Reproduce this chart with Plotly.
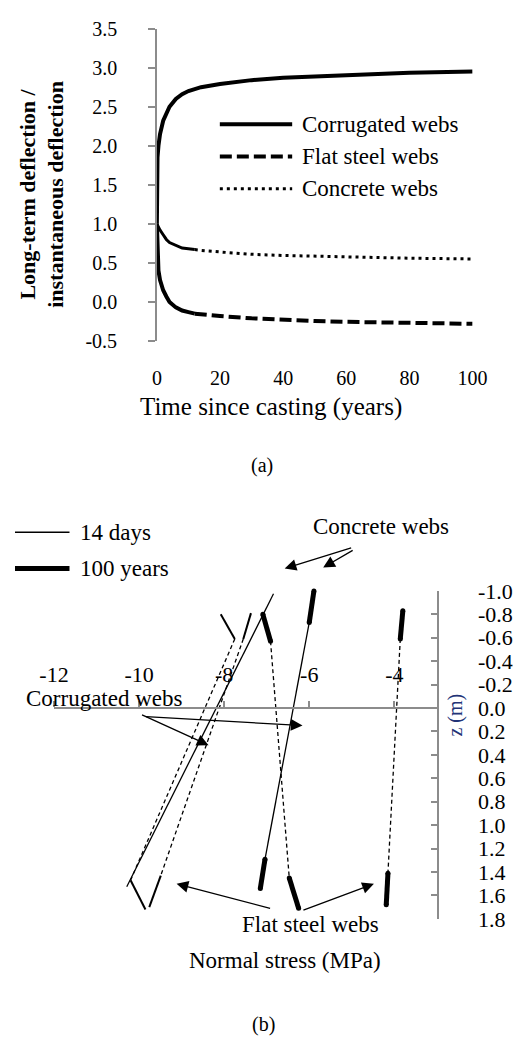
import plotly.graph_objects as go

W, H = 513, 1051
FONT = "Liberation Serif, Times New Roman, DejaVu Serif, serif"
AXC = "#8c8c8c"


def pxx(x):
    return x / W


def pxy(y):
    return 1 - y / H


# ---------------- (a) long-term deflection ratio ----------------
t_corr = [0, 0.05, 0.2, 0.5, 1, 2, 3, 4, 6, 8, 10, 14, 20, 30, 40, 50, 60, 70, 80, 90, 100]
r_corr = [1.0, 1.6, 1.85, 2.0, 2.15, 2.32, 2.42, 2.5, 2.6, 2.66, 2.7, 2.75, 2.79, 2.84, 2.87,
          2.89, 2.91, 2.92, 2.935, 2.945, 2.95]

t_flat = [0, 0.2, 0.5, 1, 2, 3, 4, 6, 8, 10, 12, 14, 20, 30, 40, 50, 60, 70, 80, 90, 100]
r_flat = [1.0, 0.6, 0.4, 0.28, 0.15, 0.07, 0.0, -0.07, -0.11, -0.13, -0.15, -0.16, -0.18, -0.21,
          -0.23, -0.245, -0.255, -0.26, -0.27, -0.275, -0.28]

t_conc = [0, 0.3, 1, 2, 3, 4, 6, 8, 10, 12, 14, 20, 30, 40, 50, 60, 70, 80, 90, 100]
r_conc = [1.0, 0.97, 0.92, 0.86, 0.8, 0.76, 0.72, 0.69, 0.68, 0.67, 0.66, 0.64, 0.61, 0.595,
          0.585, 0.575, 0.57, 0.56, 0.555, 0.55]

series_names = ["Corrugated webs", "Flat steel webs", "Concrete webs"]
x_ticks_a = [0, 20, 40, 60, 80, 100]
y_ticks_a = [-0.5, 0.0, 0.5, 1.0, 1.5, 2.0, 2.5, 3.0, 3.5]
y_ticktext_a = ["-0.5", "0.0", "0.5", "1.0", "1.5", "2.0", "2.5", "3.0", "3.5"]

# ---------------- (b) normal stress profiles ----------------
# each profile: top slab, web, bottom slab  (stress in MPa, depth z in m)
p14_x = [-6.84, -10.29]
p14_z = [-0.975, 1.525]

p100c_top_x = [-5.89, -6.00]
p100c_top_z = [-1.0, -0.73]
p100c_web_x = [-6.00, -7.04]
p100c_web_z = [-0.73, 1.29]
p100c_bot_x = [-7.04, -7.15]
p100c_bot_z = [1.29, 1.54]

pa_top_x = [-8.08, -7.75]
pa_top_z = [-0.80, -0.59]
pa_web_x = [-7.75, -10.20]
pa_web_z = [-0.59, 1.47]
pa_bot_x = [-10.20, -9.85]
pa_bot_z = [1.47, 1.72]

pb_top_x = [-7.37, -7.55]
pb_top_z = [-0.81, -0.59]
pb_web_x = [-7.55, -9.49]
pb_web_z = [-0.59, 1.43]
pb_bot_x = [-9.49, -9.76]
pb_bot_z = [1.43, 1.70]

pc_top_x = [-7.09, -6.91]
pc_top_z = [-0.80, -0.57]
pc_web_x = [-6.91, -6.47]
pc_web_z = [-0.57, 1.45]
pc_bot_x = [-6.47, -6.25]
pc_bot_z = [1.45, 1.71]

pd_top_x = [-3.80, -3.86]
pd_top_z = [-0.83, -0.59]
pd_web_x = [-3.86, -4.15]
pd_web_z = [-0.59, 1.41]
pd_bot_x = [-4.15, -4.19]
pd_bot_z = [1.41, 1.68]

x_ticks_b = [-12, -10, -8, -6, -4]
x_ticktext_b = ["-12", "-10", "-8", "-6", "-4"]
z_ticks_b = [-1.0, -0.8, -0.6, -0.4, -0.2, 0.0, 0.2, 0.4, 0.6, 0.8, 1.0, 1.2, 1.4, 1.6, 1.8]
z_ticktext_b = ["-1.0", "-0.8", "-0.6", "-0.4", "-0.2", "0.0", "0.2", "0.4", "0.6", "0.8",
                "1.0", "1.2", "1.4", "1.6", "1.8"]

fig = go.Figure()

# ---- chart (a) traces
fig.add_trace(go.Scatter(x=t_corr, y=r_corr, mode="lines", name=series_names[0],
                         line=dict(color="black", width=4), xaxis="x", yaxis="y",
                         showlegend=False))
split = 12
for t, r, dash, wid, nm in [(t_flat, r_flat, "12px,5px", 4, series_names[1]),
                            (t_conc, r_conc, "3px,4px", 3, series_names[2])]:
    te = [a for a in t if a <= split]
    re_ = [b for a, b in zip(t, r) if a <= split]
    tl = [a for a in t if a >= split]
    rl = [b for a, b in zip(t, r) if a >= split]
    fig.add_trace(go.Scatter(x=te, y=re_, mode="lines", name=nm,
                             line=dict(color="black", width=wid), xaxis="x", yaxis="y",
                             showlegend=False))
    fig.add_trace(go.Scatter(x=tl, y=rl, mode="lines", name=nm,
                             line=dict(color="black", width=wid, dash=dash), xaxis="x", yaxis="y",
                             showlegend=False))

# ---- chart (b) traces
def seg(x, z, width, dash="solid"):
    thick = width >= 4
    fig.add_trace(go.Scatter(x=x, y=z, mode="lines+markers" if thick else "lines",
                             showlegend=False, xaxis="x2", yaxis="y2",
                             line=dict(color="black", width=width, dash=dash),
                             marker=dict(size=width, color="black", line=dict(width=0)),
                             cliponaxis=False))

seg(p14_x, p14_z, 1.3)
seg(p100c_top_x, p100c_top_z, 5)
seg(p100c_web_x, p100c_web_z, 1.3)
seg(p100c_bot_x, p100c_bot_z, 5)
for tx, tz, wx, wz, bx, bz, w in [
    (pa_top_x, pa_top_z, pa_web_x, pa_web_z, pa_bot_x, pa_bot_z, 2),
    (pb_top_x, pb_top_z, pb_web_x, pb_web_z, pb_bot_x, pb_bot_z, 2),
    (pc_top_x, pc_top_z, pc_web_x, pc_web_z, pc_bot_x, pc_bot_z, 5),
    (pd_top_x, pd_top_z, pd_web_x, pd_web_z, pd_bot_x, pd_bot_z, 5),
]:
    seg(tx, tz, w)
    seg(wx, wz, 1.3, "4px,3px")
    seg(bx, bz, w)

# ---- domains
xa_dom = [pxx(151), pxx(487)]
ya_dom = [pxy(337), pxy(17)]
ya_range = [-0.5, 3.5]
zero_pos_a = ya_dom[0] + (0 - ya_range[0]) / (ya_range[1] - ya_range[0]) * (ya_dom[1] - ya_dom[0])

xb_dom = [pxx(41.5), pxx(449)]
yb_dom = [pxy(929), pxy(593)]
zb_range = [1.8, -1.0]
zero_pos_b = yb_dom[0] + (zb_range[0] - 0) / (zb_range[0] - zb_range[1]) * (yb_dom[1] - yb_dom[0])

tickfont_a = dict(family=FONT, size=20, color="black")
tickfont_b = dict(family=FONT, size=22, color="black")

fig.update_layout(
    width=W, height=H, autosize=False,
    margin=dict(l=0, r=0, t=0, b=0),
    paper_bgcolor="white", plot_bgcolor="white",
    showlegend=False,
    font=dict(family=FONT),
    xaxis=dict(domain=xa_dom, range=[0, 100], anchor="y", showline=False, ticks="",
               tickvals=x_ticks_a, tickfont=tickfont_a, ticklabelstandoff=23,
               showgrid=False, zeroline=False),
    yaxis=dict(domain=ya_dom, range=ya_range, anchor="x", showline=True, linecolor=AXC,
               linewidth=1.5, ticks="outside", ticklen=7, tickcolor=AXC, tickwidth=1.5,
               tickvals=y_ticks_a, ticktext=y_ticktext_a, tickfont=tickfont_a,
               ticklabelstandoff=27, showgrid=False, zeroline=False),
    xaxis3=dict(domain=xa_dom, range=[0, 100], overlaying="x", anchor="free",
                position=zero_pos_a, side="bottom", showline=True, linecolor=AXC, linewidth=1.5,
                ticks="outside", ticklen=6, tickcolor=AXC, tickwidth=1.5, tickvals=x_ticks_a,
                showticklabels=False, showgrid=False, zeroline=False),
    xaxis2=dict(domain=xb_dom, range=[-12, -3], anchor="free", position=zero_pos_b, side="top",
                showline=True, linecolor=AXC, linewidth=1.5, ticks="outside", ticklen=6,
                tickcolor=AXC, tickwidth=1.5, tickvals=x_ticks_b, ticktext=x_ticktext_b,
                tickfont=tickfont_b, ticklabelstandoff=10, showgrid=False, zeroline=False),
    yaxis2=dict(domain=yb_dom, range=zb_range, anchor="x2", side="right", showline=True,
                linecolor=AXC, linewidth=1.5, ticks="inside", ticklen=6, tickcolor=AXC,
                tickwidth=1.5, tickvals=z_ticks_b, ticktext=z_ticktext_b, tickfont=tickfont_b,
                ticklabelstandoff=35, showgrid=False, zeroline=False),
)

ann = []
shapes = []


def text(x, y, s, size, xanchor="center", bold=False, angle=0, color="black"):
    ann.append(dict(x=pxx(x), y=pxy(y), xref="paper", yref="paper", text=s, showarrow=False,
                    xanchor=xanchor, yanchor="middle", textangle=angle,
                    font=dict(family=FONT, size=size, color=color)))


def arrow(tx, ty, hx, hy):
    ann.append(dict(x=pxx(hx), y=pxy(hy), xref="paper", yref="paper", ax=tx - hx, ay=ty - hy,
                    axref="pixel", ayref="pixel", text="", showarrow=True, arrowhead=2,
                    arrowsize=1.8, arrowwidth=1.3, arrowcolor="black", standoff=0,
                    startstandoff=0))


def hline(x0, x1, y, width, dash="solid"):
    shapes.append(dict(type="line", xref="paper", yref="paper", x0=pxx(x0), x1=pxx(x1),
                       y0=pxy(y), y1=pxy(y), line=dict(color="black", width=width, dash=dash)))


# chart (a) legend
hline(218, 295, 115, 4)
hline(218, 295, 148, 4, "12px,5px")
hline(218, 295, 181, 3, "3px,4px")
text(303, 115, series_names[0], 23, "left")
text(303, 148, series_names[1], 23, "left")
text(303, 181, series_names[2], 23, "left")

# chart (a) titles
text(28, 187, "<b>Long-term deflection /<br>instantaneous deflection</b>", 22, angle=-90)
text(272, 405, "Time since casting (years)", 25)
text(263, 465, "(a)", 20)

# chart (b) legend
hline(0, 58, 533, 1.5)
hline(0, 58, 570, 5)
text(67, 533, "14 days", 23, "left")
text(67, 570, "100 years", 23, "left")

# chart (b) labels and arrows
text(390, 527, "Concrete webs", 23)
arrow(355, 549, 287, 570)
arrow(359, 551, 328, 569)
text(95, 703, "Corrugated webs", 23)
arrow(138, 720, 206, 751)
arrow(148, 722, 306, 731)
text(314, 935, "Flat steel webs", 23)
arrow(267, 918, 172, 893)
arrow(310, 920, 382, 893)
text(469, 720, "z (m)", 20, angle=-90, color="#223377")
text(287, 972, "Normal stress (MPa)", 23)
text(265, 1037, "(b)", 20)

fig.update_layout(annotations=ann, shapes=shapes)
fig.write_html("out.html")
